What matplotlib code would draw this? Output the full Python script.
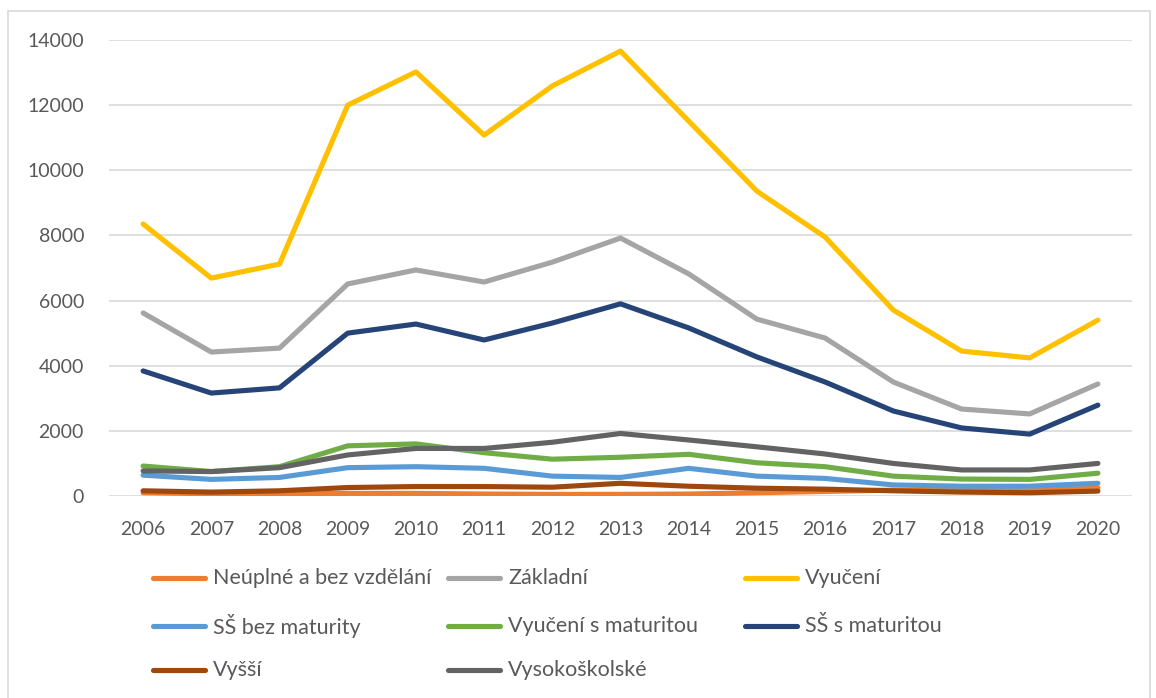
import matplotlib
matplotlib.use("Agg")
import matplotlib.pyplot as plt
from matplotlib.patches import Rectangle
from matplotlib.lines import Line2D

plt.rcParams['font.family'] = ['Lato', 'DejaVu Sans']

years = list(range(2006, 2021))
neuplne = [100, 70, 60, 80, 80, 60, 50, 50, 60, 100, 140, 180, 170, 160, 250]
zakladni = [5620, 4420, 4540, 6510, 6940, 6570, 7180, 7920, 6820, 5430, 4850, 3500, 2670, 2520, 3440]
vyuceni = [8350, 6690, 7120, 12000, 13020, 11080, 12590, 13660, 11510, 9360, 7950, 5710, 4450, 4240, 5400]
ss_bez = [640, 510, 570, 870, 900, 850, 610, 570, 850, 610, 540, 340, 300, 300, 390]
vyuc_mat = [920, 750, 900, 1540, 1600, 1330, 1130, 1190, 1280, 1020, 900, 610, 520, 510, 700]
ss_mat = [3840, 3160, 3320, 5000, 5280, 4790, 5310, 5900, 5160, 4270, 3500, 2610, 2090, 1900, 2790]
vyssi = [160, 120, 160, 260, 290, 290, 270, 390, 300, 240, 210, 160, 120, 100, 150]
vysoko = [770, 750, 870, 1260, 1460, 1460, 1650, 1920, 1720, 1510, 1290, 1000, 800, 800, 1000]

labels = ["Neúplné a bez vzdělání", "Základní", "Vyučení", "SŠ bez maturity",
          "Vyučení s maturitou", "SŠ s maturitou", "Vyšší", "Vysokoškolské"]
series = [neuplne, zakladni, vyuceni, ss_bez, vyuc_mat, ss_mat, vyssi, vysoko]
colors = ["#ED7D31", "#A5A5A5", "#FFC000", "#5B9BD5", "#70AD47", "#264478", "#9E480E", "#636363"]

W, H = 1156, 698
fig = plt.figure(figsize=(W / 100, H / 100), dpi=100)
fig.patches.append(Rectangle((8 / W, -0.05), 1142 / W, 1.05 - 11 / H, transform=fig.transFigure,
                             fill=False, edgecolor="#D9D9D9", linewidth=1.2))

ax = fig.add_axes([109 / W, 1 - 496 / H, (1132 - 109) / W, 456 / H])
x = list(range(len(years)))
for vals, c, lab in zip(series, colors, labels):
    ax.plot(x, vals, color=c, linewidth=3.7, solid_capstyle='round', solid_joinstyle='round', label=lab)

ax.set_xlim(-0.5, len(years) - 0.5)
ax.set_ylim(0, 14000)
ax.set_yticks(range(0, 14001, 2000))
ax.set_xticks(x)
ax.set_xticklabels([str(y) for y in years])
ax.yaxis.grid(True, color="#D9D9D9", linewidth=1.2)
ax.set_axisbelow(True)
for s in ax.spines.values():
    s.set_visible(False)
ax.tick_params(axis='both', length=0, labelsize=14, labelcolor="#595959")
ax.tick_params(axis='y', pad=18)
ax.tick_params(axis='x', pad=18)

# legend laid out row by row, three columns
col_x = [153, 448, 745]
row_y = [578, 626, 670]
for i, (lab, c) in enumerate(zip(labels, colors)):
    r, k = divmod(i, 3)
    x0 = col_x[k]
    y0 = 1 - row_y[r] / H
    fig.add_artist(Line2D([x0 / W, (x0 + 52) / W], [y0, y0], transform=fig.transFigure,
                          color=c, linewidth=3.7, solid_capstyle='round'))
    fig.text((x0 + 60) / W, y0, lab, fontsize=15.5, color="#595959", va='center', ha='left')

fig.savefig("out.png", dpi=100)
